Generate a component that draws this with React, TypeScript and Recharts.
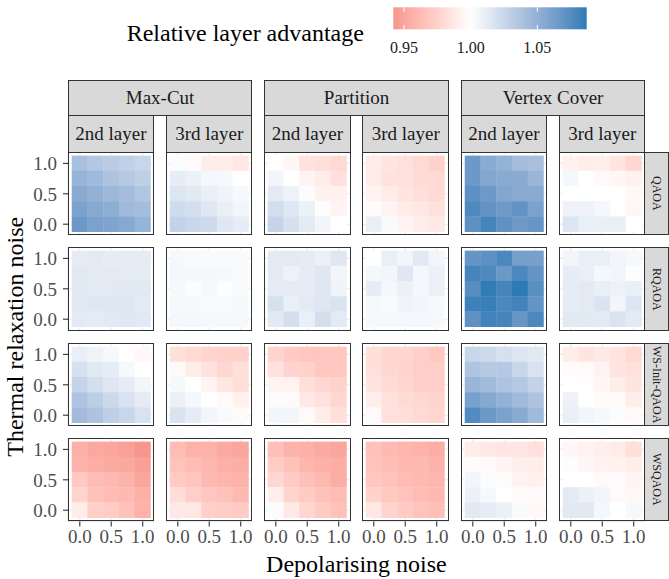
import { ScatterChart, Scatter, XAxis, YAxis, CartesianGrid } from "recharts";

const problems = ["Max-Cut", "Partition", "Vertex Cover"];
const layers = ["2nd layer", "3rd layer"];
const algorithms = ["QAOA", "RQAOA", "WS-Init-QAOA", "WSQAOA"];
const depolarising = [0, 0.25, 0.5, 0.75, 1];
// grid rows go from thermal 1.0 (top) down to 0.0
const thermal = [1, 0.75, 0.5, 0.25, 0];
const axisTicks = [0, 0.5, 1];
const legendTicks = [0.95, 1.0, 1.05];
const legendRange = [0.942, 1.087];

// QAOA
const qaoaMaxCut2 = [
  [1.04, 1.035, 1.032, 1.029, 1.026],
  [1.048, 1.044, 1.038, 1.034, 1.03],
  [1.054, 1.05, 1.045, 1.042, 1.036],
  [1.06, 1.055, 1.052, 1.044, 1.042],
  [1.066, 1.06, 1.058, 1.055, 1.048],
];
const qaoaMaxCut3 = [
  [1.002, 0.998, 0.99, 0.99, 0.987],
  [1.011, 1.009, 1.005, 1.004, 1.0],
  [1.016, 1.014, 1.01, 1.007, 1.004],
  [1.022, 1.02, 1.015, 1.01, 1.006],
  [1.028, 1.025, 1.023, 1.015, 1.011],
];
const qaoaPartition2 = [
  [0.999, 0.995, 0.984, 0.982, 0.979],
  [1.006, 1.0, 0.994, 0.99, 0.983],
  [1.013, 1.008, 1.002, 0.992, 0.992],
  [1.021, 1.015, 1.009, 1.001, 0.994],
  [1.027, 1.019, 1.013, 1.006, 1.0],
];
const qaoaPartition3 = [
  [0.989, 0.985, 0.983, 0.979, 0.975],
  [0.989, 0.984, 0.983, 0.98, 0.979],
  [0.993, 0.989, 0.985, 0.982, 0.979],
  [0.998, 0.994, 0.989, 0.987, 0.983],
  [1.01, 1.003, 0.994, 0.99, 0.988],
];
const qaoaVertex2 = [
  [1.066, 1.054, 1.049, 1.042, 1.04],
  [1.066, 1.057, 1.054, 1.054, 1.047],
  [1.072, 1.066, 1.057, 1.054, 1.054],
  [1.077, 1.07, 1.065, 1.07, 1.06],
  [1.072, 1.08, 1.071, 1.065, 1.068],
];
const qaoaVertex3 = [
  [0.992, 0.99, 0.991, 0.985, 0.977],
  [1.005, 1.0, 0.997, 0.995, 0.992],
  [1.0, 1.0, 1.0, 1.0, 0.996],
  [1.008, 1.008, 1.005, 0.999, 0.995],
  [1.016, 1.01, 1.01, 1.01, 1.0],
];

// RQAOA
const rqaoaMaxCut2 = [
  [1.012, 1.013, 1.011, 1.012, 1.012],
  [1.014, 1.013, 1.013, 1.012, 1.012],
  [1.014, 1.013, 1.013, 1.014, 1.014],
  [1.014, 1.015, 1.015, 1.015, 1.013],
  [1.013, 1.012, 1.014, 1.015, 1.014],
];
const rqaoaMaxCut3 = [
  [1.004, 1.003, 1.003, 1.003, 1.003],
  [1.005, 1.005, 1.005, 1.004, 1.003],
  [1.004, 1.002, 1.004, 1.001, 1.003],
  [1.004, 1.004, 1.003, 1.003, 1.004],
  [1.005, 1.005, 1.004, 1.004, 1.004],
];
const rqaoaPartition2 = [
  [1.013, 1.013, 1.012, 1.009, 1.015],
  [1.013, 1.008, 1.012, 1.015, 1.006],
  [1.012, 1.012, 1.011, 1.015, 1.007],
  [1.019, 1.01, 1.013, 1.015, 1.017],
  [1.014, 1.02, 1.01, 1.02, 1.013],
];
const rqaoaPartition3 = [
  [1.0, 1.01, 1.006, 1.014, 1.006],
  [1.005, 1.006, 1.015, 1.005, 1.009],
  [1.011, 1.005, 1.009, 1.005, 1.009],
  [1.004, 1.003, 1.007, 1.006, 1.004],
  [1.004, 1.004, 1.005, 1.005, 1.004],
];
const rqaoaVertex2 = [
  [1.069, 1.072, 1.078, 1.062, 1.061],
  [1.08, 1.077, 1.067, 1.078, 1.069],
  [1.074, 1.086, 1.08, 1.087, 1.073],
  [1.083, 1.084, 1.078, 1.081, 1.069],
  [1.071, 1.081, 1.08, 1.068, 1.078],
];
const rqaoaVertex3 = [
  [1.006, 1.01, 1.01, 1.006, 1.004],
  [1.011, 1.01, 1.005, 1.006, 1.001],
  [1.012, 1.013, 1.01, 1.008, 1.01],
  [1.012, 1.013, 1.017, 1.006, 1.016],
  [1.014, 1.014, 1.013, 1.017, 1.013],
];

// WS-Init-QAOA
const wsInitMaxCut2 = [
  [1.01, 1.007, 1.004, 0.999, 0.996],
  [1.019, 1.014, 1.011, 1.004, 1.0],
  [1.027, 1.02, 1.015, 1.011, 1.006],
  [1.037, 1.031, 1.024, 1.018, 1.012],
  [1.043, 1.038, 1.03, 1.026, 1.018],
];
const wsInitMaxCut3 = [
  [0.982, 0.979, 0.976, 0.975, 0.975],
  [0.997, 0.99, 0.984, 0.978, 0.982],
  [1.004, 1.0, 0.994, 0.986, 0.982],
  [1.009, 1.005, 1.0, 0.997, 0.992],
  [1.017, 1.012, 1.006, 1.003, 0.997],
];
const wsInitPartition2 = [
  [0.976, 0.971, 0.969, 0.969, 0.969],
  [0.984, 0.976, 0.975, 0.969, 0.969],
  [0.994, 0.993, 0.982, 0.978, 0.975],
  [1.002, 0.997, 0.988, 0.984, 0.977],
  [1.006, 1.006, 0.997, 0.99, 0.982],
];
const wsInitPartition3 = [
  [0.982, 0.977, 0.977, 0.974, 0.97],
  [0.983, 0.978, 0.976, 0.973, 0.973],
  [0.985, 0.98, 0.977, 0.973, 0.973],
  [0.991, 0.983, 0.98, 0.977, 0.976],
  [0.997, 0.983, 0.982, 0.979, 0.977],
];
const wsInitVertex2 = [
  [1.026, 1.023, 1.019, 1.016, 1.014],
  [1.037, 1.034, 1.034, 1.026, 1.018],
  [1.047, 1.043, 1.037, 1.034, 1.028],
  [1.061, 1.056, 1.05, 1.044, 1.038],
  [1.076, 1.066, 1.06, 1.054, 1.044],
];
const wsInitVertex3 = [
  [0.99, 0.985, 0.988, 0.985, 0.979],
  [0.998, 0.997, 0.993, 0.985, 0.983],
  [1.0, 0.999, 0.995, 0.99, 0.985],
  [1.008, 1.0, 0.998, 0.997, 0.99],
  [1.01, 1.006, 1.004, 1.002, 0.997],
];

// WSQAOA
const wsqaoaMaxCut2 = [
  [0.956, 0.952, 0.951, 0.948, 0.942],
  [0.958, 0.955, 0.953, 0.952, 0.947],
  [0.97, 0.963, 0.962, 0.958, 0.951],
  [0.976, 0.966, 0.963, 0.962, 0.956],
  [0.99, 0.974, 0.972, 0.966, 0.957],
];
const wsqaoaMaxCut3 = [
  [0.963, 0.957, 0.957, 0.953, 0.951],
  [0.967, 0.963, 0.96, 0.956, 0.955],
  [0.971, 0.968, 0.962, 0.959, 0.958],
  [0.981, 0.973, 0.969, 0.966, 0.962],
  [0.988, 0.987, 0.974, 0.972, 0.971],
];
const wsqaoaPartition2 = [
  [0.965, 0.958, 0.956, 0.953, 0.951],
  [0.972, 0.966, 0.959, 0.956, 0.955],
  [0.978, 0.971, 0.965, 0.961, 0.955],
  [0.991, 0.976, 0.971, 0.966, 0.963],
  [1.002, 0.988, 0.977, 0.971, 0.966],
];
const wsqaoaPartition3 = [
  [0.966, 0.962, 0.959, 0.958, 0.955],
  [0.967, 0.964, 0.962, 0.961, 0.958],
  [0.969, 0.967, 0.963, 0.962, 0.96],
  [0.975, 0.97, 0.967, 0.963, 0.962],
  [0.987, 0.976, 0.971, 0.967, 0.965],
];
const wsqaoaVertex2 = [
  [0.99, 0.987, 0.986, 0.986, 0.983],
  [0.998, 0.997, 0.994, 0.991, 0.99],
  [1.006, 1.002, 0.998, 0.993, 0.992],
  [1.009, 1.004, 1.0, 0.998, 0.997],
  [1.014, 1.011, 1.009, 1.003, 0.996],
];
const wsqaoaVertex3 = [
  [0.995, 0.993, 0.991, 0.989, 0.982],
  [1.001, 0.995, 0.993, 0.992, 0.99],
  [1.0, 0.999, 0.997, 0.997, 0.994],
  [1.013, 1.009, 1.006, 0.997, 0.996],
  [1.014, 1.014, 1.005, 1.0, 1.004],
];

const panelGrid = [
  [qaoaMaxCut2, qaoaMaxCut3, qaoaPartition2, qaoaPartition3, qaoaVertex2, qaoaVertex3],
  [rqaoaMaxCut2, rqaoaMaxCut3, rqaoaPartition2, rqaoaPartition3, rqaoaVertex2, rqaoaVertex3],
  [wsInitMaxCut2, wsInitMaxCut3, wsInitPartition2, wsInitPartition3, wsInitVertex2, wsInitVertex3],
  [wsqaoaMaxCut2, wsqaoaMaxCut3, wsqaoaPartition2, wsqaoaPartition3, wsqaoaVertex2, wsqaoaVertex3],
];

const FONT = '"Liberation Serif", "DejaVu Serif", serif';
const PANEL_W = 86.5;
const PANEL_H = 83.6;
const LEFT = 67.7;
const TOP = 151.7;
const COL_STEP = 98.25;
const ROW_STEP = 95.4;
const Y_AXIS_W = 60;
const X_AXIS_H = 40;
const DOMAIN: [number, number] = [-0.1875, 1.1875];
const BORDER = "1.1px solid #333333";

// diverging fill, interpolated in Lab like ggplot's gradient2
const fillStops: [number, string][] = [
  [legendRange[0], "#F7968C"],
  [1.0, "#FFFFFF"],
  [legendRange[1], "#2C7BB6"],
];

const toLin = (c: number) => {
  c /= 255;
  return c <= 0.04045 ? c / 12.92 : Math.pow((c + 0.055) / 1.055, 2.4);
};
const fromLin = (c: number) => {
  const v = c <= 0.0031308 ? 12.92 * c : 1.055 * Math.pow(c, 1 / 2.4) - 0.055;
  return Math.round(Math.min(1, Math.max(0, v)) * 255);
};
const hexToLab = (hex: string) => {
  const n = parseInt(hex.slice(1), 16);
  const r = toLin((n >> 16) & 255), g = toLin((n >> 8) & 255), b = toLin(n & 255);
  const x = (0.4124 * r + 0.3576 * g + 0.1805 * b) / 0.95047;
  const y = 0.2126 * r + 0.7152 * g + 0.0722 * b;
  const z = (0.0193 * r + 0.1192 * g + 0.9505 * b) / 1.08883;
  const f = (t: number) => (t > 0.008856 ? Math.cbrt(t) : 7.787 * t + 16 / 116);
  return [116 * f(y) - 16, 500 * (f(x) - f(y)), 200 * (f(y) - f(z))];
};
const labToCss = ([L, A, B]: number[]) => {
  const fy = (L + 16) / 116, fx = fy + A / 500, fz = fy - B / 200;
  const inv = (t: number) => (t * t * t > 0.008856 ? t * t * t : (t - 16 / 116) / 7.787);
  const x = 0.95047 * inv(fx), y = inv(fy), z = 1.08883 * inv(fz);
  const r = 3.2406 * x - 1.5372 * y - 0.4986 * z;
  const g = -0.9689 * x + 1.8758 * y + 0.0415 * z;
  const b = 0.0557 * x - 0.204 * y + 1.057 * z;
  return `rgb(${fromLin(r)},${fromLin(g)},${fromLin(b)})`;
};
const stopLabs = fillStops.map(([v, c]) => [v, hexToLab(c)] as [number, number[]]);

const fillFor = (v: number) => {
  const lo = stopLabs[0][0], hi = stopLabs[stopLabs.length - 1][0];
  const x = Math.min(hi, Math.max(lo, v));
  for (let i = 0; i < stopLabs.length - 1; i++) {
    const [v0, l0] = stopLabs[i];
    const [v1, l1] = stopLabs[i + 1];
    if (x <= v1) {
      const t = (x - v0) / (v1 - v0);
      return labToCss(l0.map((c, k) => c + t * (l1[k] - c)));
    }
  }
  return labToCss(stopLabs[stopLabs.length - 1][1]);
};

const tileW = (PANEL_W * 0.25) / (DOMAIN[1] - DOMAIN[0]);
const tileH = (PANEL_H * 0.25) / (DOMAIN[1] - DOMAIN[0]);

const Tile = (p: any) => (
  <rect
    x={p.cx - tileW / 2 - 0.2}
    y={p.cy - tileH / 2 - 0.2}
    width={tileW + 0.4}
    height={tileH + 0.4}
    fill={fillFor(p.payload.v)}
  />
);

const tickStyle = { fill: "#4D4D4D", fontSize: 19, fontFamily: FONT };

const Panel = ({ grid, row, col }: { grid: number[][]; row: number; col: number }) => {
  const showY = col === 0;
  const showX = row === panelGrid.length - 1;
  const points = thermal.flatMap((ty, i) =>
    depolarising.map((dx, j) => ({ x: dx, y: ty, v: grid[i][j] }))
  );
  const w = PANEL_W + (showY ? Y_AXIS_W : 0);
  const h = PANEL_H + (showX ? X_AXIS_H : 0);
  const left = LEFT + col * COL_STEP;
  const top = TOP + row * ROW_STEP;
  return (
    <>
      <div style={{ position: "absolute", left: left - (showY ? Y_AXIS_W : 0), top, width: w, height: h }}>
        <ScatterChart width={w} height={h} margin={{ top: 0, right: 0, bottom: 0, left: 0 }}>
          <CartesianGrid stroke="#EBEBEB" strokeWidth={1.1} />
          <XAxis
            dataKey="x"
            type="number"
            domain={DOMAIN}
            allowDataOverflow
            ticks={axisTicks}
            interval={0}
            hide={!showX}
            height={X_AXIS_H}
            axisLine={false}
            tickLine={{ stroke: "#333333", strokeWidth: 1.1 }}
            tickSize={5}
            tickMargin={3}
            tick={tickStyle}
            tickFormatter={(v: number) => v.toFixed(1)}
          />
          <YAxis
            dataKey="y"
            type="number"
            domain={DOMAIN}
            allowDataOverflow
            ticks={axisTicks}
            interval={0}
            hide={!showY}
            width={Y_AXIS_W}
            axisLine={false}
            tickLine={{ stroke: "#333333", strokeWidth: 1.1 }}
            tickSize={5}
            tickMargin={6}
            tick={tickStyle}
            tickFormatter={(v: number) => v.toFixed(1)}
          />
          <Scatter data={points} shape={Tile} isAnimationActive={false} />
        </ScatterChart>
      </div>
      <div
        style={{
          position: "absolute",
          left,
          top,
          width: PANEL_W,
          height: PANEL_H,
          border: BORDER,
          boxSizing: "border-box",
          pointerEvents: "none",
        }}
      />
    </>
  );
};

const stripBox = {
  position: "absolute" as const,
  background: "#D9D9D9",
  border: BORDER,
  boxSizing: "border-box" as const,
  display: "flex",
  alignItems: "center",
  justifyContent: "center",
  color: "#1A1A1A",
  fontFamily: FONT,
  whiteSpace: "nowrap" as const,
};

const barX0 = 393.3;
const barW = 193.4;
const legendX = (v: number) => barX0 + ((v - legendRange[0]) / (legendRange[1] - legendRange[0])) * barW;

const gradientStops = Array.from({ length: 30 }, (_, i) => i / 29);

export default function App() {
  const rightStripX = LEFT + 5 * COL_STEP + PANEL_W - 1.1;
  return (
    <div style={{ position: "absolute", left: 0, top: 0, width: 669, height: 579, background: "#fff", fontFamily: FONT }}>
      <svg width={669} height={579} style={{ position: "absolute", left: 0, top: 0 }}>
        <defs>
          <linearGradient id="relAdv" x1="0" x2="1" y1="0" y2="0">
            {gradientStops.map((t) => (
              <stop
                key={t}
                offset={t}
                stopColor={fillFor(legendRange[0] + t * (legendRange[1] - legendRange[0]))}
              />
            ))}
          </linearGradient>
        </defs>
        <text x={126.7} y={41} fontSize={24} fontFamily={FONT} fill="#000">
          Relative layer advantage
        </text>
        <rect x={barX0} y={7.3} width={barW} height={22} fill="url(#relAdv)" />
        {legendTicks.map((t) => (
          <g key={t}>
            <line x1={legendX(t)} x2={legendX(t)} y1={7.3} y2={11.7} stroke="#fff" strokeWidth={1} />
            <line x1={legendX(t)} x2={legendX(t)} y1={24.9} y2={29.3} stroke="#fff" strokeWidth={1} />
            <text x={legendX(t)} y={53} textAnchor="middle" fontSize={16} fontFamily={FONT} fill="#1A1A1A">
              {t.toFixed(2)}
            </text>
          </g>
        ))}
        <text x={356.4} y={571.5} textAnchor="middle" fontSize={24} fontFamily={FONT} fill="#000">
          Depolarising noise
        </text>
        <text
          x={0}
          y={0}
          transform={`translate(23.3, 336.8) rotate(-90)`}
          textAnchor="middle"
          fontSize={24}
          fontFamily={FONT}
          fill="#000"
        >
          Thermal relaxation noise
        </text>
      </svg>

      {problems.map((p, i) => (
        <div
          key={p}
          style={{
            ...stripBox,
            left: LEFT + 2 * i * COL_STEP,
            top: 80,
            width: COL_STEP + PANEL_W,
            height: 36.3,
            fontSize: 19,
          }}
        >
          {p}
        </div>
      ))}
      {problems.flatMap((p, i) =>
        layers.map((l, j) => (
          <div
            key={p + l}
            style={{
              ...stripBox,
              left: LEFT + (2 * i + j) * COL_STEP,
              top: 115.2,
              width: PANEL_W,
              height: 37.6,
              fontSize: 19,
            }}
          >
            {l}
          </div>
        ))
      )}
      {algorithms.map((a, r) => (
        <div
          key={a}
          style={{
            ...stripBox,
            left: rightStripX,
            top: TOP + r * ROW_STEP,
            width: 669 - rightStripX,
            height: PANEL_H,
            fontSize: 12,
          }}
        >
          <span style={{ writingMode: "vertical-rl" }}>{a}</span>
        </div>
      ))}

      {panelGrid.map((rowGrids, r) =>
        rowGrids.map((g, c) => <Panel key={`${r}-${c}`} grid={g} row={r} col={c} />)
      )}
    </div>
  );
}
